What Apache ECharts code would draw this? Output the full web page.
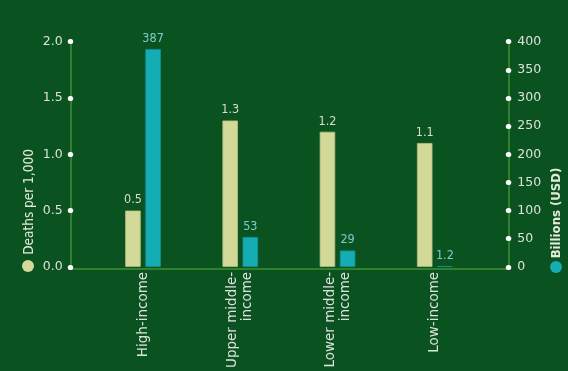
<!DOCTYPE html>
<html>
<head>
<meta charset="utf-8">
<script src="https://cdn.jsdelivr.net/npm/echarts@6/dist/echarts.min.js"></script>
<style>
  html, body { margin: 0; padding: 0; background: #0a5220; }
  #chart { width: 568px; height: 371px; }
</style>
</head>
<body>
<div id="chart"></div>
<script>
// Income groups and the two measures plotted for each
const categories = ['High-income', 'Upper middle-\nincome', 'Lower middle-\nincome', 'Low-income'];
const deathsPer1000 = [0.5, 1.3, 1.2, 1.1];
const billionsUSD = [387, 53, 29, 1.2];
const leftTicks = { min: 0, max: 2, interval: 0.5 };
const rightTicks = { min: 0, max: 400, interval: 50 };

const FONT = '"DejaVu Sans", sans-serif';
const FONT_NARROW = '"DejaVu Sans Condensed", "DejaVu Sans", sans-serif';
const BG = '#0a5220';
const AXIS = '#3f9131';
const TEXT = '#dce2da';
const YELLOW = '#d3d999';
const TEAL = '#13adb3';

const chart = echarts.init(document.getElementById('chart'), null, { renderer: 'canvas' });

// White dot on the axis at every tick
const dotTick = { show: true, length: 0.5, lineStyle: { color: '#ffffff', width: 5, cap: 'round' } };

chart.setOption({
  backgroundColor: BG,
  animation: false,
  textStyle: { fontFamily: FONT },
  grid: [
    { left: 94.4, right: 84.6, top: 41.7, bottom: 102.7 },
    { left: 70.7, right: 59.7, top: 41.7, bottom: 102.7 }
  ],
  legend: [
    {
      data: ['Deaths per 1,000'], left: 22, top: 260, icon: 'circle',
      itemWidth: 12, itemHeight: 12, formatter: () => '', selectedMode: false, padding: 0,
      itemStyle: { borderWidth: 0 }
    },
    {
      data: ['Billions (USD)'], left: 550, top: 261, icon: 'circle',
      itemWidth: 12, itemHeight: 12, formatter: () => '', selectedMode: false, padding: 0,
      itemStyle: { borderWidth: 0 }
    }
  ],
  graphic: [
    {
      type: 'text', x: 29, y: 202, rotation: Math.PI / 2,
      style: { text: 'Deaths per 1,000', fill: '#e4ead8', font: '500 13.5px ' + FONT_NARROW, align: 'center', verticalAlign: 'middle' }
    },
    {
      type: 'text', x: 557, y: 213, rotation: Math.PI / 2,
      style: { text: 'Billions (USD)', fill: '#e4ead8', font: 'bold 13px ' + FONT_NARROW, align: 'center', verticalAlign: 'middle' }
    }
  ],
  xAxis: [
    {
      type: 'category', gridIndex: 0, data: categories,
      axisLine: { show: false }, axisTick: { show: false },
      axisLabel: { rotate: 90, interval: 0, color: TEXT, fontSize: 13.5, lineHeight: 15, margin: 5, fontFamily: FONT }
    },
    {
      type: 'value', gridIndex: 1,
      axisLine: { show: true, lineStyle: { color: AXIS, width: 1.5 } },
      axisTick: { show: false }, axisLabel: { show: false }, splitLine: { show: false }
    }
  ],
  yAxis: [
    {
      type: 'value', gridIndex: 0, position: 'left', offset: 23.7,
      min: leftTicks.min, max: leftTicks.max, interval: leftTicks.interval,
      axisLine: { show: true, lineStyle: { color: AXIS, width: 1.5 } },
      axisTick: dotTick,
      axisLabel: { color: TEXT, fontSize: 12.5, margin: 8, formatter: v => v.toFixed(1), fontFamily: FONT },
      splitLine: { show: false }
    },
    {
      type: 'value', gridIndex: 0, position: 'right', offset: 24.9,
      min: rightTicks.min, max: rightTicks.max, interval: rightTicks.interval,
      axisLine: { show: true, lineStyle: { color: AXIS, width: 1.5 } },
      axisTick: dotTick,
      axisLabel: { color: TEXT, fontSize: 12.5, margin: 9, fontFamily: FONT },
      splitLine: { show: false }
    },
    { type: 'value', gridIndex: 1, show: false }
  ],
  series: [
    {
      name: 'Deaths per 1,000', type: 'bar', xAxisIndex: 0, yAxisIndex: 0,
      data: deathsPer1000, barWidth: 15.5, barGap: '30%',
      itemStyle: { color: YELLOW, borderColor: '#b9c083', borderWidth: 0.8 },
      label: { show: true, position: 'top', distance: 4, color: '#d8ddcc', fontSize: 12.5, fontFamily: FONT_NARROW,
               formatter: p => p.value.toFixed(1) }
    },
    {
      name: 'Billions (USD)', type: 'bar', xAxisIndex: 0, yAxisIndex: 1,
      data: billionsUSD, barWidth: 15.5, barGap: '30%',
      itemStyle: { color: TEAL, borderColor: '#0f969c', borderWidth: 0.8 },
      label: { show: true, position: 'top', distance: 4, color: '#7ccccc', fontSize: 12.5, fontFamily: FONT_NARROW }
    }
  ]
});
</script>
</body>
</html>
